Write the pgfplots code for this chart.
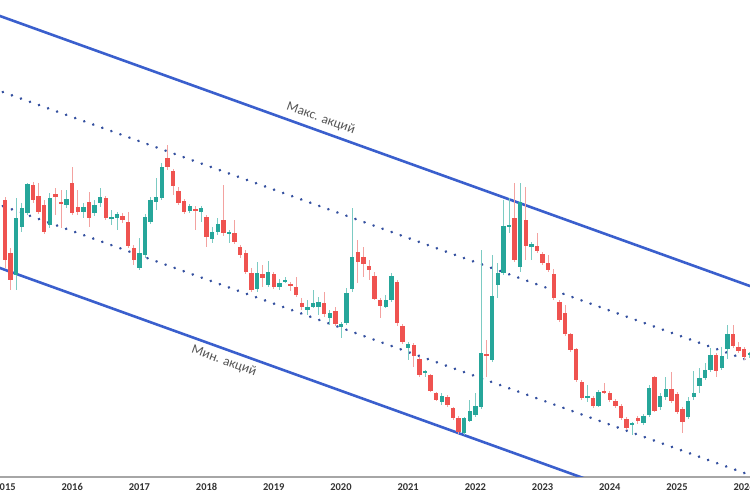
\documentclass[border=0pt]{standalone}
\usepackage{pgfplots}
\pgfplotsset{compat=1.18}
\usepackage{pgfplotstable}
\usepackage{fontspec}
\setmainfont{Carlito}
\definecolor{up}{HTML}{26A69A}
\definecolor{down}{HTML}{EF5350}
\definecolor{upw}{HTML}{7CCBC3}
\definecolor{downw}{HTML}{F3A2A0}
\definecolor{chan}{HTML}{3A5FCD}
\definecolor{chdots}{HTML}{34509F}
\definecolor{lbl}{HTML}{555555}
\definecolor{tickc}{HTML}{333333}
\definecolor{axc}{HTML}{A6A6A6}

% monthly candles, i = month index (0 = Jan 2015); o h l c in chart units
\pgfplotstableread{
i o h l c
0 300 303 232 240
1 247 252 210 220
2 225 302 210 282
3 273 297 268 292
4 287 317 285 316
5 315 318 297 300
6 304 317 286 288
7 295 300 266 268
8 275 307 272 302
9 306 312 285 303
10 298 310 272 296
11 295 310 292 301
12 317 333 285 287
13 293 310 285 288
14 288 297 282 293
15 298 308 273 282
16 287 300 284 295
17 297 312 293 303
18 302 304 280 282
19 281 290 275 283
20 282 288 270 286
21 284 287 277 280
22 278 288 252 254
23 252 255 235 240
24 232 262 230 247
25 245 286 242 283
26 278 303 276 300
27 298 322 290 303
28 302 337 300 333
29 342 355 330 333
30 329 331 305 314
31 309 313 295 297
32 299 301 286 288
33 289 296 287 294
34 291 294 270 289
35 288 294 278 292
36 283 285 253 263
37 261 273 257 268
38 268 282 265 276
39 280 315 264 267
40 266 270 257 268
41 267 280 256 258
42 253 255 242 245
43 247 250 226 228
44 227 232 208 210
45 211 238 208 227
46 226 235 213 222
47 215 239 213 228
48 226 228 211 213
49 213 221 210 217
50 218 223 217 220
51 216 218 209 214
52 213 223 203 205
53 197 202 190 193
54 190 200 185 193
55 193 210 192 197
56 193 203 185 198
57 197 208 183 186
58 182 190 175 187
59 189 193 174 176
60 173 178 162 176
61 177 212 175 207
62 211 292 208 243
63 248 260 217 238
64 243 253 223 236
65 234 240 220 230
66 224 228 200 201
67 200 202 182 194
68 193 205 192 200
69 200 227 198 224
70 218 220 174 177
71 174 176 156 158
72 152 158 140 156
73 155 157 133 144
74 141 143 123 125
75 127 130 123 129
76 125 126 108 109
77 107 108 99 100
78 98 107 95 104
79 103 105 93 95
80 92 93 80 82
81 82 84 66 68
82 67 83 65 82
83 79 100 78 89
84 85 107 83 94
85 93 250 91 147
86 146 160 123 144
87 140 245 138 204
88 215 237 202 227
89 227 300 225 274
90 273 302 267 275
91 282 317 238 240
92 233 317 228 298
93 280 313 240 254
94 253 258 240 256
95 254 267 247 249
96 246 248 235 237
97 237 245 228 230
98 226 231 200 202
99 198 200 178 180
100 187 195 164 166
101 166 167 148 150
102 151 152 118 120
103 118 120 100 102
104 102 115 98 104
105 102 104 92 94
106 94 110 93 108
107 109 117 106 107
108 107 109 98 100
109 99 101 92 94
110 94 96 80 82
111 81 83 70 72
112 75 78 65 77
113 82 84 76 79
114 77 86 75 84
115 85 115 83 112
116 123 124 88 89
117 93 107 90 104
118 103 123 100 111
119 111 128 97 99
120 106 108 86 88
121 91 93 67 78
122 83 103 81 99
123 103 129 100 107
124 114 132 107 122
125 122 137 120 130
126 130 152 128 145
127 145 147 123 129
128 132 153 130 144
129 151 175 141 166
130 166 175 152 154
131 153 158 147 149
132 151 153 140 143
133 145 148 142 147
}\candles

\begin{document}
\begin{tikzpicture}
\useasboundingbox (0,-23bp) rectangle (750bp,477bp);
\begin{axis}[
  at={(0,0)}, anchor=south west,
  scale only axis, width=750bp, height=477bp,
  xmin=-0.893, xmax=133.04, ymin=23, ymax=500,
  axis x line*=bottom, axis y line=none,
  axis line style={draw=axc, line width=1.8bp},
  xtick={0,12,24,36,48,60,72,84,96,108,120,132},
  xticklabels={2015,2016,2017,2018,2019,2020,2021,2022,2023,2024,2025,2026},
  major tick length=0pt,
  xticklabel style={anchor=north, yshift=-3bp, font=\fontsize{10.5}{12}\selectfont\bfseries, text=tickc},
  candle/.style={draw=none, mark=none, forget plot},
]
% channel lines
\addplot[chan, line width=2.6bp] coordinates {(-2,486.2) (135,210.0)};
\addplot[chan, line width=2.6bp] coordinates {(-2,234.2) (135,-42.0)};
\addplot[chdots, line width=2.9bp, line cap=round, dash pattern=on 0.01bp off 9.6bp] coordinates {(-2,411.2) (135,135.0)};
\addplot[chdots, line width=2.9bp, line cap=round, dash pattern=on 0.01bp off 9.6bp] coordinates {(-2,297.2) (135,21.0)};
% wicks
\addplot[candle, restrict expr to domain={\thisrow{c}-\thisrow{o}}{0.5:1000},
  error bars/.cd, y dir=both, y explicit, error mark=none, error bar style={line width=0.9bp, draw=upw}]
  table[x=i, y expr={(\thisrow{h}+\thisrow{l})/2}, y error expr={(\thisrow{h}-\thisrow{l})/2}] {\candles};
\addplot[candle, restrict expr to domain={\thisrow{c}-\thisrow{o}}{-1000:-0.5},
  error bars/.cd, y dir=both, y explicit, error mark=none, error bar style={line width=0.9bp, draw=downw}]
  table[x=i, y expr={(\thisrow{h}+\thisrow{l})/2}, y error expr={(\thisrow{h}-\thisrow{l})/2}] {\candles};
% bodies
\addplot[candle, restrict expr to domain={\thisrow{c}-\thisrow{o}}{0.5:1000},
  error bars/.cd, y dir=both, y explicit, error mark=none, error bar style={line width=4.3bp, draw=up}]
  table[x=i, y expr={(\thisrow{o}+\thisrow{c})/2}, y error expr={abs(\thisrow{c}-\thisrow{o})/2}] {\candles};
\addplot[candle, restrict expr to domain={\thisrow{c}-\thisrow{o}}{-1000:-0.5},
  error bars/.cd, y dir=both, y explicit, error mark=none, error bar style={line width=4.3bp, draw=down}]
  table[x=i, y expr={(\thisrow{o}+\thisrow{c})/2}, y error expr={abs(\thisrow{c}-\thisrow{o})/2}] {\candles};
% labels
\node[rotate=-19.8, text=lbl, font=\fontsize{13.5}{15}\selectfont] at (axis cs:56.4,381.5) {Макс. акций};
\node[rotate=-19.8, text=lbl, font=\fontsize{13.5}{15}\selectfont] at (axis cs:39.1,139) {Мин. акций};
\end{axis}
\end{tikzpicture}
\end{document}
